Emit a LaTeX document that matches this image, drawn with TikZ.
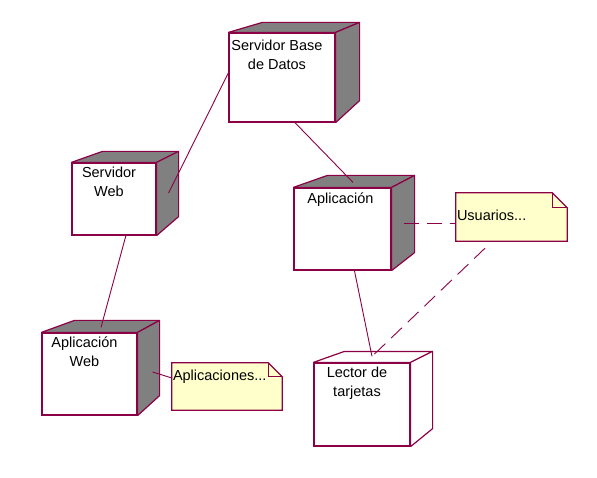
\documentclass[tikz,border=0pt]{standalone}
\usepackage{fontspec}
\setmainfont{Liberation Sans}
\definecolor{rose}{RGB}{140,0,70}
\definecolor{sidegrey}{RGB}{128,128,128}
\definecolor{notefill}{RGB}{255,255,204}

\begin{document}
\begin{tikzpicture}[x=1pt, y=-1pt,
  front/.style={draw=rose, line width=1.2pt, fill=white, rectangle, inner sep=0pt},
  devtext/.style={anchor=north, align=center, inner sep=4pt, xshift=-5pt, font=\fontsize{14.5}{19}\selectfont},
  face/.style={draw=rose, line width=1.2pt, fill=sidegrey, line join=bevel},
  blankface/.style={draw=rose, line width=1.2pt, fill=white, line join=bevel},
  notebox/.style={fill=notefill, rectangle, inner sep=0pt},
  notetext/.style={anchor=west, inner sep=1pt, font=\fontsize{14.5}{19}\selectfont},
  noteedge/.style={draw=rose, line width=1.2pt},
  link/.style={draw=rose, line width=0.9pt},
  dashlink/.style={draw=rose, line width=0.9pt, dash pattern=on 15pt off 8pt}]

\useasboundingbox (0,0) rectangle (597,478);

% Servidor Base de Datos
\node[front, minimum width=106pt, minimum height=89pt, label={[devtext, yshift=-3pt]north:Servidor Base\\de Datos}] (bd) at (282,77.5) {};
\draw[face] (bd.north west) -- ++(34pt,10pt) -- ([shift={(24pt,10pt)}]bd.north east) -- (bd.north east) -- cycle;
\draw[face] (bd.north east) -- ++(24pt,10pt) -- ([shift={(24pt,22pt)}]bd.south east) -- (bd.south east) -- cycle;

% Servidor Web
\node[front, minimum width=84pt, minimum height=72pt, label={[devtext]north:Servidor\\Web}] (web) at (114,199) {};
\draw[face] (web.north west) -- ++(31pt,11pt) -- ([shift={(22pt,11pt)}]web.north east) -- (web.north east) -- cycle;
\draw[face] (web.north east) -- ++(22pt,11pt) -- ([shift={(22pt,19pt)}]web.south east) -- (web.south east) -- cycle;

% Aplicacion
\node[front, minimum width=97pt, minimum height=82pt, label={[devtext, xshift=3pt, yshift=-1pt]north:Aplicación}] (app) at (342.5,229) {};
\draw[face] (app.north west) -- ++(34pt,12pt) -- ([shift={(23pt,12pt)}]app.north east) -- (app.north east) -- cycle;
\draw[face] (app.north east) -- ++(23pt,12pt) -- ([shift={(23pt,18pt)}]app.south east) -- (app.south east) -- cycle;

% Aplicacion Web
\node[front, minimum width=95pt, minimum height=82pt, label={[devtext]north:Aplicación\\Web}] (appweb) at (89.5,374) {};
\draw[face] (appweb.north west) -- ++(33pt,12pt) -- ([shift={(22pt,12pt)}]appweb.north east) -- (appweb.north east) -- cycle;
\draw[face] (appweb.north east) -- ++(22pt,12pt) -- ([shift={(22pt,20pt)}]appweb.south east) -- (appweb.south east) -- cycle;

% Lector de tarjetas
\node[front, minimum width=96pt, minimum height=83pt, label={[devtext]north:Lector de\\tarjetas}] (lector) at (362,404.5) {};
\draw[blankface] (lector.north west) -- ++(31pt,11pt) -- ([shift={(22pt,11pt)}]lector.north east) -- (lector.north east) -- cycle;
\draw[blankface] (lector.north east) -- ++(22pt,11pt) -- ([shift={(22pt,18pt)}]lector.south east) -- (lector.south east) -- cycle;

% Usuarios note
\node[notebox, minimum width=111pt, minimum height=48pt, label={[notetext, yshift=2pt]west:Usuarios...}] (usu) at (511.5,217) {};
\fill[white] ([xshift=-15pt]usu.north east) -- (usu.north east) -- ([yshift=-15pt]usu.north east) -- cycle;
\draw[noteedge] (usu.south west) -- (usu.north west) -- ([xshift=-15pt]usu.north east) -- ([yshift=-15pt]usu.north east) -- (usu.south east) -- cycle;
\draw[noteedge] ([xshift=-15pt]usu.north east) -- ([shift={(-15pt,-15pt)}]usu.north east) -- ([yshift=-15pt]usu.north east);

% Aplicaciones note
\node[notebox, minimum width=110pt, minimum height=47pt, label={[notetext, yshift=9.5pt]west:Aplicaciones...}] (apl) at (227,386.5) {};
\fill[white] ([xshift=-14pt]apl.north east) -- (apl.north east) -- ([yshift=-14pt]apl.north east) -- cycle;
\draw[noteedge] (apl.south west) -- (apl.north west) -- ([xshift=-14pt]apl.north east) -- ([yshift=-14pt]apl.north east) -- (apl.south east) -- cycle;
\draw[noteedge] ([xshift=-14pt]apl.north east) -- ([shift={(-14pt,-14pt)}]apl.north east) -- ([yshift=-14pt]apl.north east);

% links
\draw[link] (bd.175) -- ([shift={(12pt,6pt)}]web.east);
\draw[link] (bd.-74) -- ([shift={(10.5pt,5pt)}]app.north);
\draw[link] (web.-72) -- ([shift={(11.5pt,5pt)}]appweb.north);
\draw[link] (app.-74) -- ([shift={(10pt,6pt)}]lector.north);
\draw[link] ([shift={(15pt,2pt)}]appweb.east) -- ([yshift=8.5pt]apl.west);

% note links
\draw[dashlink] ([shift={(12pt,6pt)}]app.east) -- ([yshift=-6pt]usu.west);
\draw[dashlink] ([shift={(-26.5pt,-7pt)}]usu.south) -- ([shift={(10pt,6pt)}]lector.north);

\end{tikzpicture}
\end{document}
